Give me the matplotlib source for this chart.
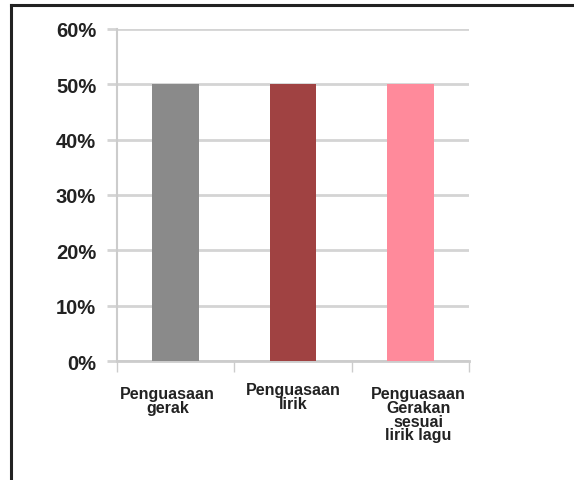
import matplotlib.pyplot as plt
from matplotlib.lines import Line2D

# Data
categories = ["Penguasaan\ngerak", "Penguasaan\nlirik", "Penguasaan\nGerakan\nsesuai\nlirik lagu"]
values = [50, 50, 50]
bar_colors = ["#8a8a8a", "#a04242", "#ff8a9b"]
yticks = [0, 10, 20, 30, 40, 50, 60]

plt.rcParams['font.family'] = ['Liberation Sans', 'DejaVu Sans']

fig = plt.figure(figsize=(5.74, 4.81), dpi=100)
ax = fig.add_axes([117 / 574, 1 - 362 / 481, 352 / 574, 332 / 481])

x = list(range(len(categories)))
ax.bar(x, values, width=0.4, color=bar_colors, zorder=3)

ax.set_xlim(-0.5, len(categories) - 0.5)
ax.set_ylim(0, 60)
ax.set_yticks(yticks)
ax.set_yticklabels(["%d%%" % v for v in yticks], fontsize=14.5, fontweight="bold", color="#222222")
ax.yaxis.grid(True, color="#d4d4d4", linewidth=2, zorder=0)

# category boundary ticks on the x axis
ax.set_xticks([i - 0.5 for i in range(len(categories) + 1)])
ax.set_xticklabels([])
ax.tick_params(axis="x", length=8, color="#cccccc", width=1)
ax.tick_params(axis="y", length=7, color="#d4d4d4", width=2, pad=8)

for s in ["top", "right"]:
    ax.spines[s].set_visible(False)
ax.spines["left"].set_color("#cccccc")
ax.spines["left"].set_linewidth(1.5)
ax.spines["bottom"].set_color("#cccccc")
ax.spines["bottom"].set_linewidth(2)

# category labels under the axis (slightly shifted as in the original)
label_offsets = [(-6, -18), (0, -15), (6, -18)]
for i, lab in enumerate(categories):
    ax.annotate(lab, xy=(i, 0), xycoords="data", xytext=label_offsets[i],
                textcoords="offset points", ha="center", va="top",
                fontsize=11.5, fontweight="bold", color="#222222", linespacing=0.9)

# frame lines at top and left of the picture
fig.add_artist(Line2D([11 / 574, 11 / 574], [0, 1 - 6 / 481], color="#222222", linewidth=2.2))
fig.add_artist(Line2D([11 / 574, 1], [1 - 6 / 481, 1 - 6 / 481], color="#222222", linewidth=2.2))

fig.savefig("out.png", dpi=100)
